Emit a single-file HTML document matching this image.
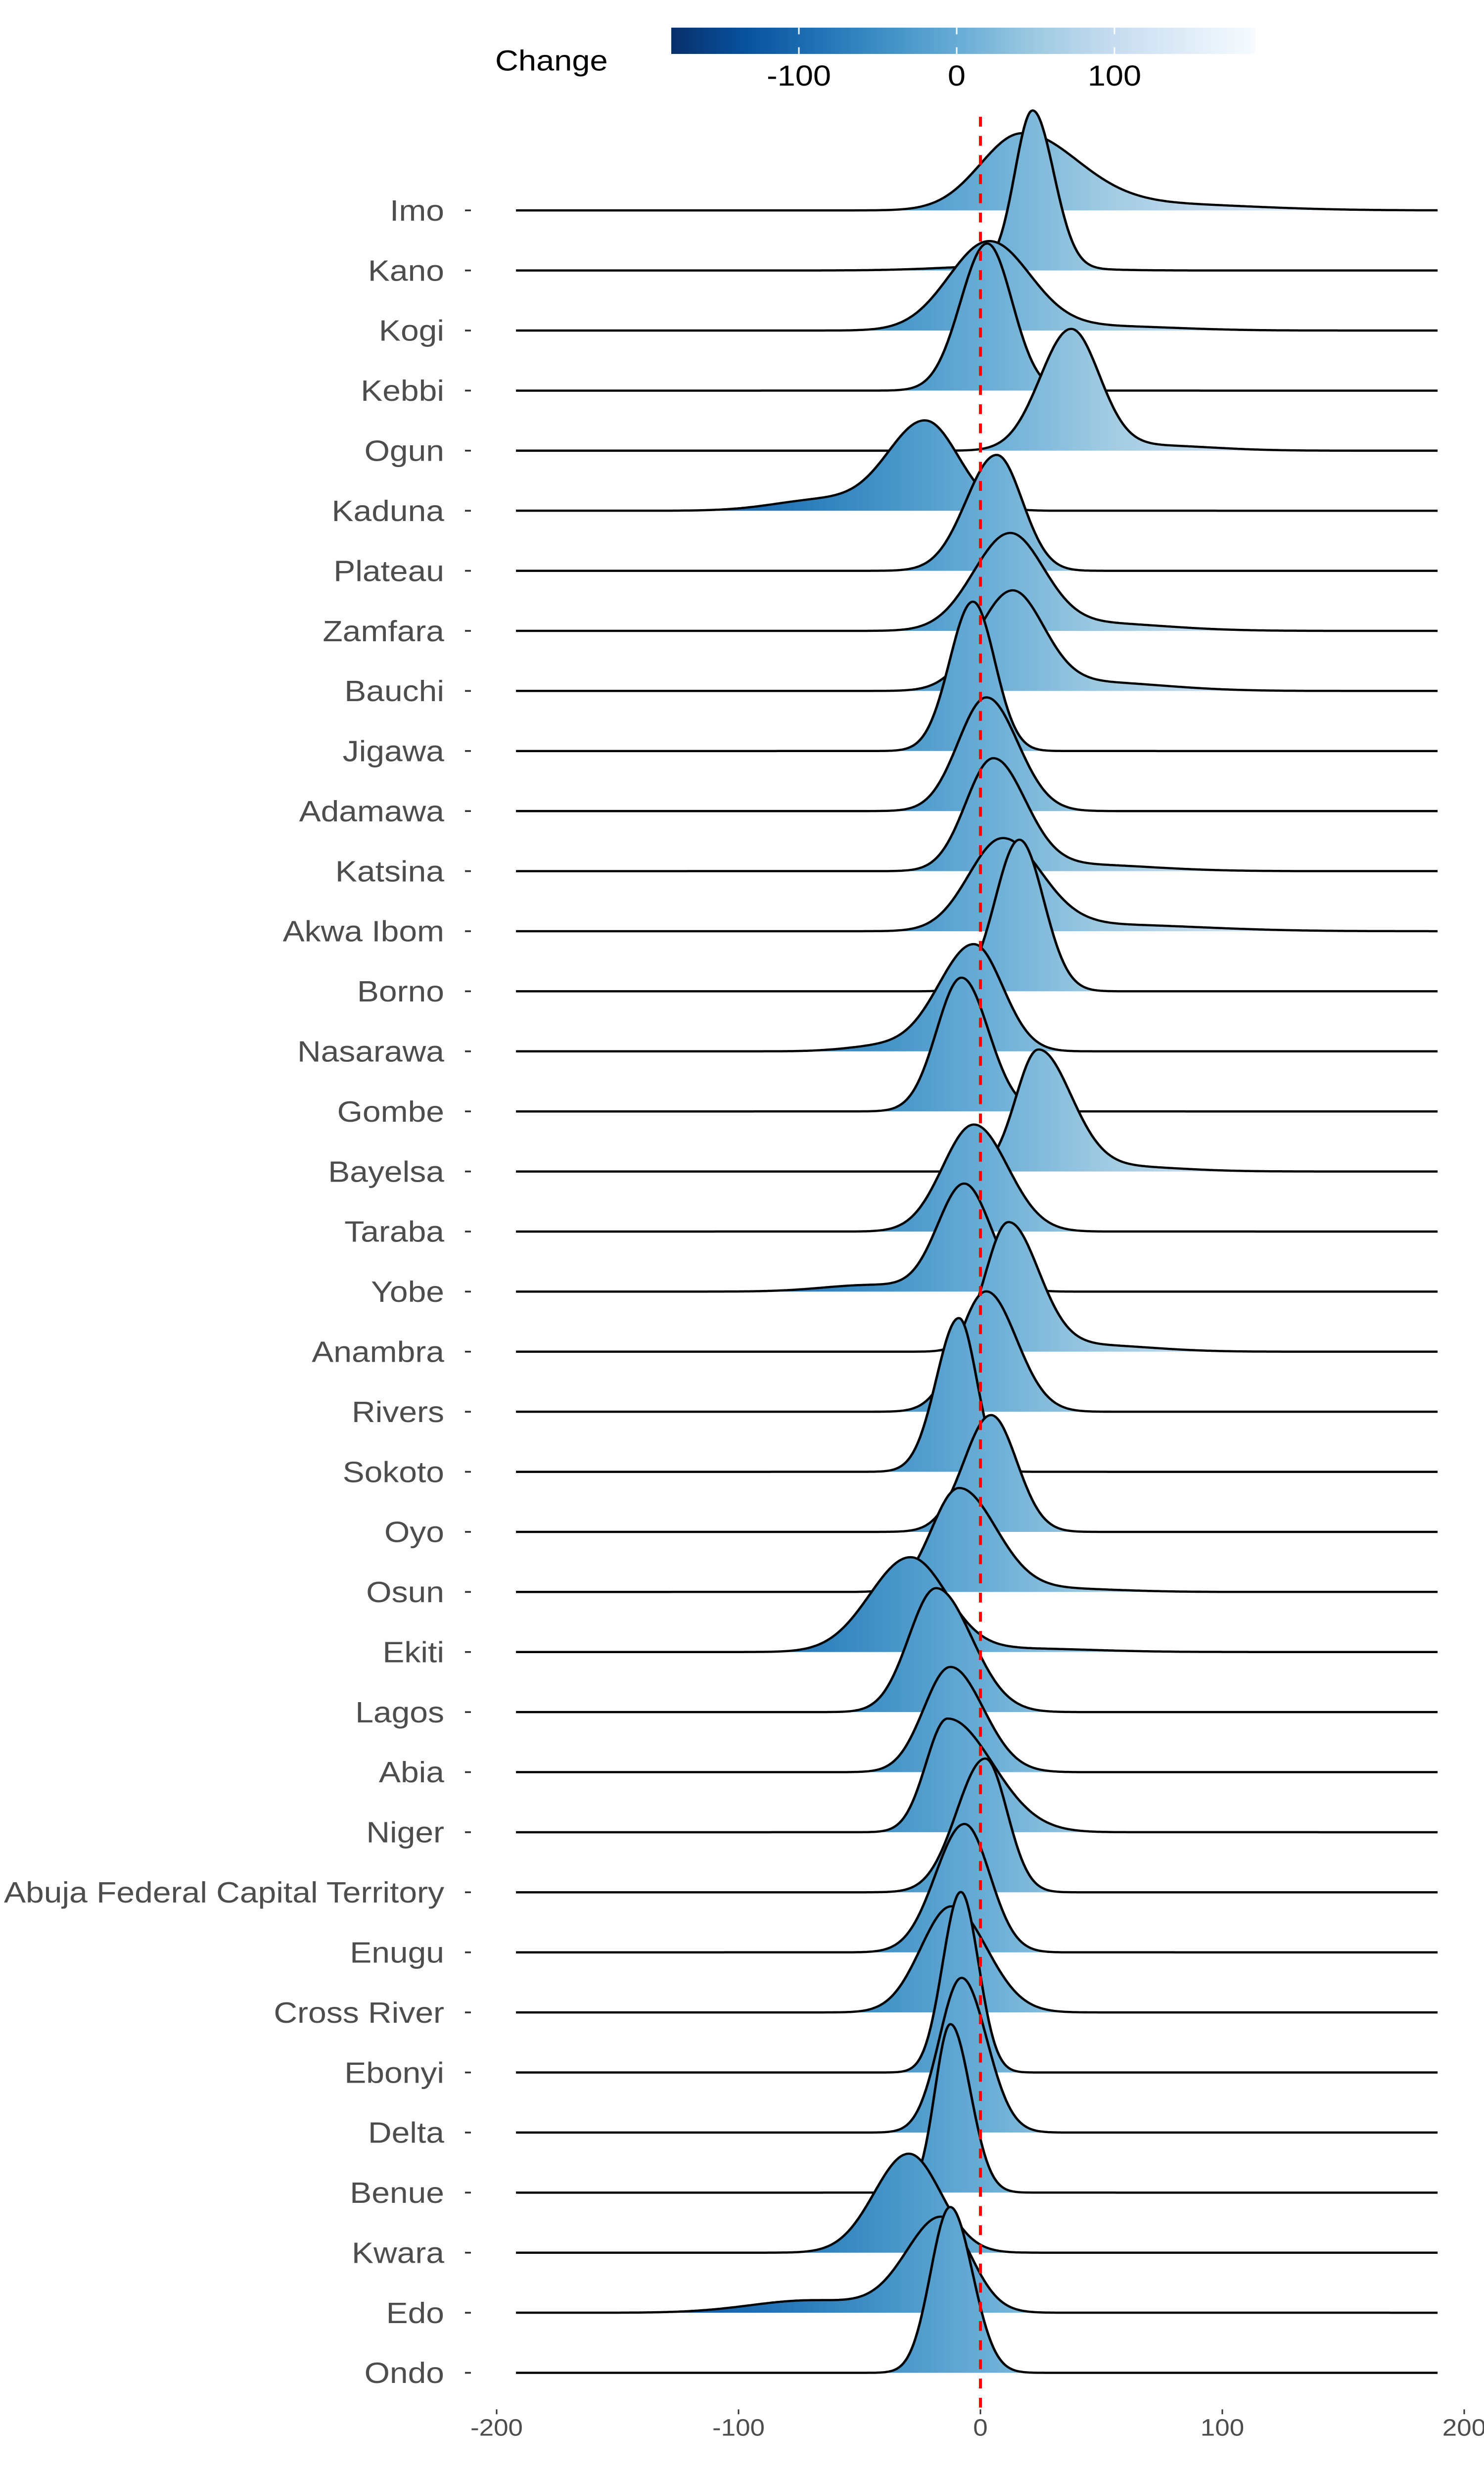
<!DOCTYPE html>
<html><head><meta charset="utf-8">
<style>
html,body{margin:0;padding:0;background:#fff;overflow:hidden;}
svg{position:fixed;left:0;top:0;display:block;width:100vw;height:100vh;}
</style></head>
<body>
<svg id="s" xmlns="http://www.w3.org/2000/svg" viewBox="0 0 3000 5550" preserveAspectRatio="none">
<defs>
<linearGradient id="g" gradientUnits="userSpaceOnUse" x1="1097" y1="0" x2="2906" y2="0">
<stop offset="0" stop-color="#08306b"/><stop offset="0.125" stop-color="#08519c"/>
<stop offset="0.25" stop-color="#2171b5"/><stop offset="0.375" stop-color="#4292c6"/>
<stop offset="0.5" stop-color="#6baed6"/><stop offset="0.625" stop-color="#9ecae1"/>
<stop offset="0.75" stop-color="#c6dbef"/><stop offset="0.875" stop-color="#deebf7"/>
<stop offset="1" stop-color="#f7fbff"/></linearGradient>
<linearGradient id="cb" x1="0" y1="0" x2="1" y2="0">
<stop offset="0" stop-color="#08306b"/><stop offset="0.125" stop-color="#08519c"/>
<stop offset="0.25" stop-color="#2171b5"/><stop offset="0.375" stop-color="#4292c6"/>
<stop offset="0.5" stop-color="#6baed6"/><stop offset="0.625" stop-color="#9ecae1"/>
<stop offset="0.75" stop-color="#c6dbef"/><stop offset="0.875" stop-color="#deebf7"/>
<stop offset="1" stop-color="#f7fbff"/></linearGradient>
</defs>
<g font-family="Liberation Sans, Arial, sans-serif">
<text x="1001" y="158" font-size="65" fill="#000">Change</text>
<rect x="1357" y="62" width="1180" height="59" fill="url(#cb)"/>
<g stroke="#fff" stroke-width="3">
<line x1="1615" y1="62" x2="1615" y2="77"/><line x1="1615" y1="106" x2="1615" y2="121"/>
<line x1="1934" y1="62" x2="1934" y2="77"/><line x1="1934" y1="106" x2="1934" y2="121"/>
<line x1="2253" y1="62" x2="2253" y2="77"/><line x1="2253" y1="106" x2="2253" y2="121"/>
</g>
<g font-size="65" fill="#000" text-anchor="middle">
<text x="1615" y="192">-100</text><text x="1934" y="192">0</text><text x="2253" y="192">100</text>
</g>
<g id="rows"></g>
<g id="labels" font-size="66" fill="#4d4d4d" text-anchor="end"></g>
<line x1="1982" y1="262" x2="1982" y2="5405" stroke="#ff0000" stroke-width="6" stroke-dasharray="22,21"/>
<g stroke="#333" stroke-width="3">
<line x1="1004" y1="5405" x2="1004" y2="5416"/><line x1="1493" y1="5405" x2="1493" y2="5416"/>
<line x1="1982" y1="5405" x2="1982" y2="5416"/><line x1="2471" y1="5405" x2="2471" y2="5416"/>
<line x1="2960" y1="5405" x2="2960" y2="5416"/>
</g>
<g font-size="53" fill="#4d4d4d" text-anchor="middle">
<text x="1004" y="5464">-200</text><text x="1493" y="5464">-100</text><text x="1982" y="5464">0</text>
<text x="2471" y="5464">100</text><text x="2960" y="5464">200</text>
</g>
</g>
</svg>
<script>
var D=[
["Imo",[[17,17,23,170],[70,30,40,15]]],
["Kano",[[21.6,7.3,8.7,350],[10,25,25,10]]],
["Kogi",[[3.6,16.7,17,200],[50,20,30,10]]],
["Kebbi",[[2.8,11,10.3,330]]],
["Ogun",[[37.4,12.7,11.7,270],[70,20,25,12]]],
["Kaduna",[[-22.7,15.5,13.6,200],[-65,20,20,25]]],
["Plateau",[[6.7,12.6,10.6,260]]],
["Zamfara",[[12,15,14,215],[45,20,30,18]]],
["Bauchi",[[13,14,13,220],[45,20,30,20]]],
["Jigawa",[[-3.1,9.6,9,335]]],
["Adamawa",[[2.5,11.7,12.9,255]]],
["Katsina",[[5.2,11.3,13.3,250],[40,20,30,15]]],
["Akwa Ibom",[[9,13.9,16,205],[50,25,40,15]]],
["Borno",[[16.1,10,10,340]]],
["Nasarawa",[[-2.7,14.6,11.9,240],[-40,15,15,12]]],
["Gombe",[[-7.8,10.3,11.1,300]]],
["Bayelsa",[[23.9,9.3,13.5,270],[55,20,25,12]]],
["Taraba",[[-2.7,12.9,14,240]]],
["Yobe",[[-6.6,11,10.8,240],[-45,20,20,15]]],
["Anambra",[[11.5,9.4,12.5,287],[45,20,25,15]]],
["Rivers",[[2.4,11.3,12.5,270]]],
["Sokoto",[[-8.9,9.3,7.3,345]]],
["Oyo",[[4.4,11.2,10.6,262]]],
["Osun",[[-8.9,11.3,15.2,232],[30,20,25,8]]],
["Ekiti",[[-29,16.8,15,212],[15,20,30,8]]],
["Lagos",[[-18.3,11.3,14.6,278]]],
["Abia",[[-12.4,11,13.6,236]]],
["Niger",[[-13.6,8.9,18.6,255]]],
["Abuja Federal Capital Territory",[[2,11.8,9,300]]],
["Enugu",[[-6.6,12,10.5,288]]],
["Cross River",[[-12,12.7,14.6,238]]],
["Ebonyi",[[-8.1,7.5,7.3,405]]],
["Delta",[[-7.8,9.2,10.4,347]]],
["Benue",[[-12.4,6.4,8.2,378]]],
["Kwara",[[-29.6,14.3,13.2,222]]],
["Edo",[[-16,14.5,11.9,210],[-70,25,30,28]]],
["Ondo",[[-12.5,8.1,9.2,372]]]
];
var NS="http://www.w3.org/2000/svg";
var rows=document.getElementById("rows"),labels=document.getElementById("labels");
function px(x){return 1982+x*4.89;}
D.forEach(function(r,i){
  var y0=472+i*134.75, pts=[];
  for(var x=-192;x<=189.01;x+=0.5){
    var h=0;
    r[1].forEach(function(c){var s=x<c[0]?c[1]:c[2];var z=(x-c[0])/s;h+=c[3]*Math.exp(-0.5*z*z);});
    pts.push(px(x).toFixed(1)+","+(y0-h).toFixed(1));
  }
  var line="M"+pts.join("L");
  var f=document.createElementNS(NS,"path");
  f.setAttribute("d",line+"L"+px(189).toFixed(1)+","+y0+"L"+px(-192).toFixed(1)+","+y0+"Z");
  f.setAttribute("fill","url(#g)");
  rows.appendChild(f);
  var p=document.createElementNS(NS,"path");
  p.setAttribute("d",line);p.setAttribute("fill","none");p.setAttribute("stroke","#000");
  p.setAttribute("stroke-width","5");p.setAttribute("stroke-linejoin","round");
  rows.appendChild(p);
  var t=document.createElementNS(NS,"text");
  t.setAttribute("x","898");t.setAttribute("y",(y0+23).toFixed(1));t.textContent=r[0];
  labels.appendChild(t);
  var tk=document.createElementNS(NS,"line");
  tk.setAttribute("x1","940");tk.setAttribute("x2","952");
  tk.setAttribute("y1",y0);tk.setAttribute("y2",y0);
  tk.setAttribute("stroke","#333");tk.setAttribute("stroke-width","4");
  labels.appendChild(tk);
});
</script>
</body></html>
